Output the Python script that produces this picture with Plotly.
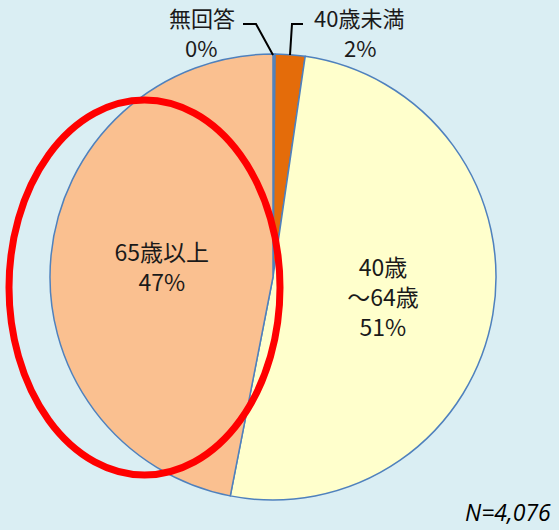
import plotly.graph_objects as go

# Data (N=4,076)
labels = ["無回答", "40歳未満", "40歳～64歳", "65歳以上"]
display_labels = ["無回答", "40歳未満", "40歳<br>～64歳", "65歳以上"]
counts = [6, 88, 2069, 1913]
colors = ["#A6A6A6", "#E46C0A", "#FFFFCC", "#FAC090"]
n_total = sum(counts)

W, H = 559, 530
BG = "#DAEEF3"
FONT = "Noto Sans CJK JP"
TXT = "#1a1a1a"

pcts = [round(100 * c / n_total) for c in counts]
inside_text = []
positions = []
for i, (lab, p) in enumerate(zip(display_labels, pcts)):
    if p >= 10:
        inside_text.append(f"{lab}<br>{p}%")
        positions.append("inside")
    else:
        inside_text.append("")
        positions.append("none")

fig = go.Figure(go.Pie(
    labels=labels,
    values=counts,
    text=inside_text,
    textinfo="text",
    textposition=positions,
    insidetextorientation="horizontal",
    sort=False,
    direction="clockwise",
    rotation=0,
    marker=dict(colors=colors, line=dict(color="#4F81BD", width=1.5)),
    textfont=dict(family=FONT, size=23, color=TXT),
    hoverinfo="label+percent",
    showlegend=False,
    domain=dict(x=[50 / W, 496 / W], y=[1 - 500 / H, 1 - 54 / H]),
))

def px(x):
    return x / W

def py(y):
    return 1 - y / H

annotations = []
# outside labels for small slices
outside = [(0, 202, 17, 201, 47), (1, 359, 17, 360, 47)]
for idx, lx, ly, vx, vy in outside:
    annotations.append(dict(x=px(lx), y=py(ly), xref="paper", yref="paper",
                            text=labels[idx], showarrow=False,
                            font=dict(family=FONT, size=22, color=TXT),
                            xanchor="center", yanchor="middle"))
    annotations.append(dict(x=px(vx), y=py(vy), xref="paper", yref="paper",
                            text=f"{pcts[idx]}%", showarrow=False,
                            font=dict(family=FONT, size=22, color=TXT),
                            xanchor="center", yanchor="middle"))

annotations.append(dict(x=px(553), y=py(512), xref="paper", yref="paper",
                        text=f"<i>N={n_total:,}</i>", showarrow=False,
                        font=dict(family="Open Sans", size=23, color="#000000"),
                        xanchor="right", yanchor="middle"))

shapes = [
    # leader line 無回答
    dict(type="path", xref="paper", yref="paper",
         path=f"M {px(243)},{py(24)} L {px(256)},{py(24)} L {px(273)},{py(55)}",
         line=dict(color="#000000", width=2)),
    # leader line 40歳未満
    dict(type="path", xref="paper", yref="paper",
         path=f"M {px(290)},{py(55)} L {px(292)},{py(24)} L {px(303)},{py(24)}",
         line=dict(color="#000000", width=2)),
    # red ellipse highlight
    dict(type="circle", xref="paper", yref="paper",
         x0=px(9), x1=px(280), y0=py(475), y1=py(100),
         line=dict(color="#FF0000", width=7)),
]

fig.update_layout(
    width=W, height=H,
    margin=dict(l=0, r=0, t=0, b=0),
    paper_bgcolor=BG,
    plot_bgcolor=BG,
    annotations=annotations,
    shapes=shapes,
)

fig.write_html(
    "out.html",
    config={"displayModeBar": False},
    post_script="document.body.style.margin='0';document.body.style.padding='0';",
)
